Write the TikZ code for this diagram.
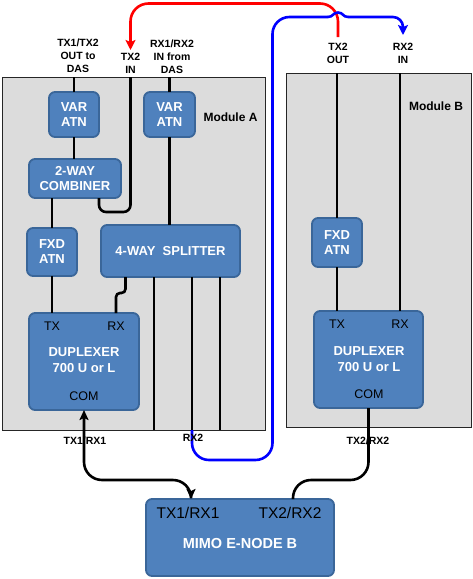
\documentclass[tikz,border=0pt]{standalone}
\usepackage{fontspec}
\setmainfont{Liberation Sans}
\usetikzlibrary{arrows.meta}
\definecolor{blkfill}{HTML}{4F81BD}
\definecolor{blkline}{HTML}{3A6699}
\definecolor{modfill}{HTML}{DCDCDC}
\definecolor{redw}{HTML}{FF0000}
\definecolor{bluew}{HTML}{0000FF}
\begin{document}
\begin{tikzpicture}[x=1pt,y=-1pt,
  blk/.style={draw=blkline, line width=1.8pt, fill=blkfill, rounded corners=6pt, text=white,
    font=\bfseries\fontsize{13}{15}\selectfont, align=center, inner sep=0pt, outer sep=0pt},
  blkt/.style={text=white, font=\bfseries\fontsize{13}{16}\selectfont, align=center, inner sep=0pt},
  module/.style={draw=black!85, line width=0.8pt, fill=modfill, inner sep=0pt, outer sep=0pt},
  modlbl/.style={font=\bfseries\fontsize{12}{14}\selectfont, inner sep=0pt},
  wire/.style={line width=2.6pt, black},
  redwire/.style={line width=2.6pt, redw},
  bluewire/.style={line width=2.6pt, bluew},
  lbl/.style={font=\bfseries\fontsize{10.5}{13}\selectfont, align=center, inner sep=0pt},
  port/.style={font=\fontsize{12.5}{14}\selectfont, inner sep=0pt},
  bigport/.style={font=\fontsize{15.5}{17}\selectfont, inner sep=0pt}
]
\useasboundingbox (0,0) rectangle (473,579);

% modules
\node[module, minimum width=263, minimum height=353] (modA) at (133.5,253.5) {};
\node[module, minimum width=185, minimum height=354] (modB) at (378.5,250) {};
\node[modlbl] (labA) at (230.5,117) {Module A};
\node[modlbl] (labB) at (436,106) {Module B};

% coordinates
\coordinate (cx) at (99,0);
\coordinate (loopbl) at (99,212);
\coordinate (loopbr) at (130.5,212);
\coordinate (s1) at (125.5,0);
\coordinate (s1b) at (125.5,293);
\coordinate (s1c) at (116,293);
\coordinate (o1) at (154,0);
\coordinate (o2) at (192,0);
\coordinate (o3) at (220,0);
\coordinate (rxB) at (400,0);
\coordinate (b1) at (191,480);
\coordinate (b2) at (293,480);
\coordinate (bl) at (272.5,460);
\coordinate (tl) at (272.5,17);
\coordinate (hump1) at (328,17);
\coordinate (humptop) at (338,12.5);
\coordinate (hump2) at (348,17);
\coordinate (bt) at (403,17);
\coordinate (bend) at (403,35);
\coordinate (rstart) at (338,37);
\coordinate (rtop1) at (338,3.5);
\coordinate (rtop2) at (130.5,3.5);
\coordinate (rend) at (130.5,50);

% blocks
\node[blk, minimum width=50, minimum height=45] (varA) at (74,114.5) {VAR\\ATN};
\node[blk, minimum width=51, minimum height=45] (varB) at (169.5,114.5) {VAR\\ATN};
\node[blk, minimum width=92, minimum height=39] (comb) at (75,178.5) {2-WAY\\COMBINER};
\node[blk, minimum width=50, minimum height=48] (fxdA) at (52,252) {FXD\\ATN};
\node[blk, minimum width=139, minimum height=52] (split) at (170.5,251) {4-WAY\ \ SPLITTER};
\node[blk, minimum width=110, minimum height=97] (dupA) at (84,361.5) {};
\node[blk, minimum width=50, minimum height=49] (fxdB) at (337,242.5) {FXD\\ATN};
\node[blk, minimum width=109, minimum height=97] (dupB) at (368.5,359.5) {};
\node[blk, minimum width=188, minimum height=77] (mimo) at (240,537.5) {};

% block inner texts
\node[port] (dAtx) at (52,326) {TX};
\node[port] (dArx) at (116,326) {RX};
\node[blkt] (dAname) at (84,360) {DUPLEXER\\700 U or L};
\node[port] (dAcom) at (84,396) {COM};
\node[port] (dBtx) at (337,324) {TX};
\node[port] (dBrx) at (400,324) {RX};
\node[blkt] (dBname) at (369,359) {DUPLEXER\\700 U or L};
\node[port] (dBcom) at (369,394) {COM};
\node[bigport] (m1) at (188,513) {TX1/RX1};
\node[bigport] (m2) at (290,513) {TX2/RX2};
\node[blkt, font=\bfseries\fontsize{14.5}{16}\selectfont] (mname) at (240,544) {MIMO E-NODE B};

% module A wires
\draw[wire] (varA.north) -- (varA.north |- modA.north);
\draw[wire] (varA.south) -- (varA.south |- comb.north);
\draw[wire] (fxdA.north |- comb.south) -- (fxdA.north);
\draw[wire] (fxdA.south) -- (fxdA.south |- dupA.north);
\draw[wire, rounded corners=7pt] (comb.south -| cx) -- (loopbl) -- (loopbr) -- (loopbr |- modA.north);
\draw[wire] (varB.north) -- (varB.north |- modA.north);
\draw[wire] (varB.south) -- (varB.south |- split.north);
\draw[wire, rounded corners=4pt] (split.south -| s1) -- (s1b) -- (s1c) -- (s1c |- dupA.north);
\draw[wire] (split.south -| o1) -- (o1 |- modA.south);
\draw[wire] (split.south -| o2) -- (o2 |- modA.south);
\draw[wire] (split.south -| o3) -- (o3 |- modA.south);

% module B wires
\draw[wire] (fxdB.north |- modB.north) -- (fxdB.north);
\draw[wire] (fxdB.south) -- (fxdB.south |- dupB.north);
\draw[wire] (rxB |- modB.north) -- (rxB |- dupB.north);

% bottom wires
\draw[wire, rounded corners=18pt, {Stealth[length=10pt,width=9pt,inset=2pt]}-{Stealth[length=10pt,width=9pt,inset=2pt]}]
  (dupA.south) -- (dupA.south |- b1) -- (b1) -- (b1 |- mimo.north);
\draw[wire, rounded corners=18pt] (dupB.south) -- (dupB.south |- b2) -- (b2) -- (b2 |- mimo.north);

% red wire
\draw[redwire, rounded corners=18pt, -{Stealth[length=10pt,width=10pt,inset=2pt]}] (rstart) -- (rtop1) -- (rtop2) -- (rend);

% blue wire (with a small jump over the red one)
\draw[bluewire, rounded corners=17pt]
  (o2 |- modA.south) -- (o2 |- bl) -- (bl) -- (tl) -- (hump1);
\draw[bluewire]
  (hump1) .. controls (333,17) and (333,12.5) .. (humptop)
  .. controls (343,12.5) and (343,17) .. (hump2);
\draw[bluewire, rounded corners=10pt, -{Stealth[length=10pt,width=10pt,inset=2pt]}]
  (hump2) -- (bt) -- (bend);

% labels
\node[lbl] (l1) at (78,56) {TX1/TX2\\OUT to\\DAS};
\node[lbl] (l2) at (130.5,63.5) {TX2\\IN};
\node[lbl] (l3) at (172,56.5) {RX1/RX2\\IN from\\DAS};
\node[lbl] (l4) at (338,53.5) {TX2\\OUT};
\node[lbl] (l5) at (403,53.5) {RX2\\IN};
\node[lbl] (l6) at (85,441) {TX1/RX1};
\node[lbl] (l7) at (193,438) {RX2};
\node[lbl] (l8) at (368,441) {TX2/RX2};
\end{tikzpicture}
\end{document}
